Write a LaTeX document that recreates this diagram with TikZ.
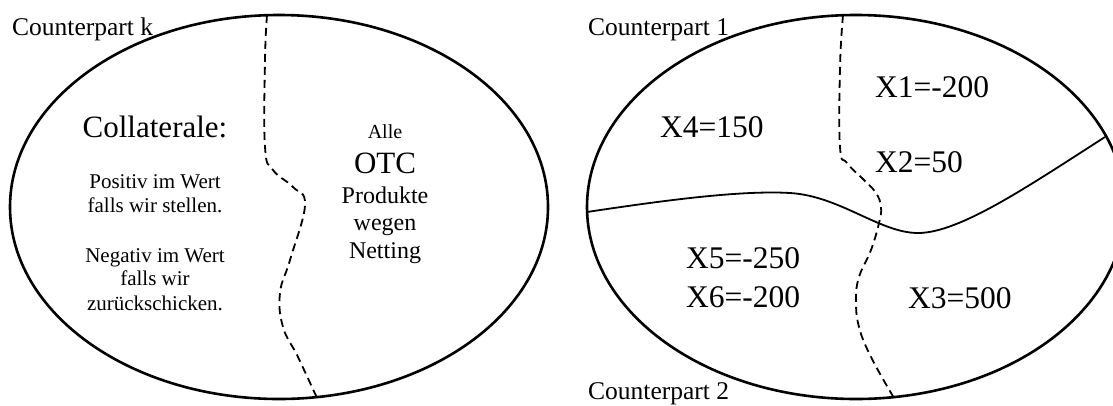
\documentclass[tikz,border=0pt]{standalone}
\usepackage{fontspec}
\setmainfont{Liberation Serif}
\begin{document}
\begin{tikzpicture}[x=1pt,y=-1pt,
  region/.style={line width=2.6pt},
  split/.style={line width=1.8pt},
  splitdash/.style={line width=1.8pt,dash pattern=on 8pt off 5pt},
  lbl/.style={inner sep=0pt,anchor=base west,font=\fontsize{25.5}{30}\selectfont},
  big/.style={inner sep=0pt,anchor=base,font=\fontsize{31}{36}\selectfont},
  small/.style={inner sep=0pt,anchor=base,font=\fontsize{21}{25}\selectfont},
  mid/.style={inner sep=0pt,anchor=base,font=\fontsize{24}{28}\selectfont},
  xval/.style={inner sep=0pt,anchor=base west,font=\fontsize{31.5}{36}\selectfont}]
\useasboundingbox (0,0) rectangle (1113,405);
\clip (0,0) rectangle (1113,405);
% left ellipse
\draw[region] (279,207) ellipse [x radius=269, y radius=192];
\draw[splitdash] plot[smooth,tension=0.7] coordinates {(267,15) (265,60) (265,147) (273,170) (293,187) (305,205) (290,260) (280,293) (283,327) (298,357) (317,398)};
% right ellipse
\draw[region] (856,207) ellipse [x radius=269, y radius=192];
\draw[split] (587,212) .. controls (660,201) and (740,190) .. (790,193)
  .. controls (840,196) and (880,233) .. (918,233)
  .. controls (960,233) and (1030,185) .. (1105,137);
\draw[splitdash] plot[smooth,tension=0.7] coordinates {(843,15) (840,67) (840,147) (847,163) (864,180) (876,193) (881,207) (879,223) (871,250) (859,277) (856,300) (859,327) (871,357) (894,398)};
% labels
\node[lbl] (ck) at (12,35) {Counterpart k};
\node[lbl] (c1) at (588,35) {Counterpart 1};
\node[lbl] (c2) at (588,399) {Counterpart 2};
% left texts
\node[big] (coll) at (155,137) {Collaterale:};
\node[small] (p1) at (155,188) {Positiv im Wert};
\node[small] (p2) at (155,212) {falls wir stellen.};
\node[small] (n1) at (155,262) {Negativ im Wert};
\node[small] (n2) at (155,285) {falls wir};
\node[small] (n3) at (155,310) {zurückschicken.};
\node[inner sep=0pt,anchor=base,font=\fontsize{20}{24}\selectfont] (alle) at (385,138) {Alle};
\node[big] (otc) at (385,173) {OTC};
\node[mid] (prod) at (385,203) {Produkte};
\node[mid] (weg) at (385,230) {wegen};
\node[mid] (net) at (385,258) {Netting};
% right values
\node[xval] (x1) at (875,97) {X1=-200};
\node[xval] (x4) at (660,137) {X4=150};
\node[xval] (x2) at (875,172) {X2=50};
\node[xval] (x5) at (686,268) {X5=-250};
\node[xval] (x6) at (686,307) {X6=-200};
\node[xval] (x3) at (908,308) {X3=500};
\end{tikzpicture}
\end{document}
